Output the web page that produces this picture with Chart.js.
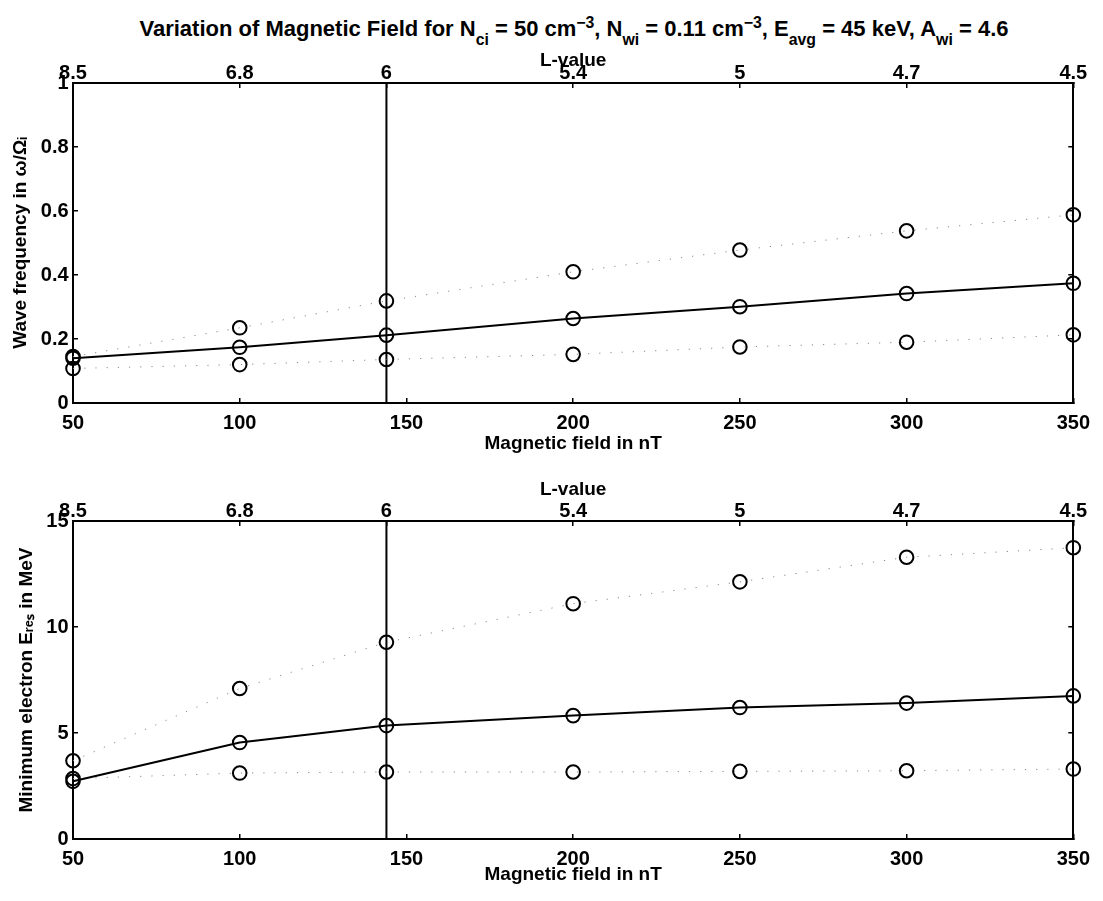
<!DOCTYPE html>
<html>
<head>
<meta charset="utf-8">
<script src="https://cdn.jsdelivr.net/npm/chart.js@4.4.0/dist/chart.umd.min.js"></script>
<style>
  body { margin: 0; background: #fff; width: 1103px; height: 901px; overflow: hidden; position: relative;
         font-family: 'Liberation Sans', Arial, sans-serif; }
  #title { position: absolute; left: 0; width: 1148px; top: 16px; text-align: center;
           font-size: 22px; font-weight: bold; color: #000; white-space: nowrap; }
  #title sub { font-size: 0.72em; vertical-align: -0.55em; line-height: 0; }
  #title sup { font-size: 0.72em; vertical-align: 0.5em; line-height: 0; }
  .panel { position: absolute; left: 0; width: 1103px; }
</style>
</head>
<body>
<div id="title">Variation of Magnetic Field for N<sub>ci</sub> = 50 cm<sup>&minus;3</sup>, N<sub>wi</sub> = 0.11 cm<sup>&minus;3</sup>, E<sub>avg</sub> = 45 keV, A<sub>wi</sub> = 4.6</div>
<div class="panel" style="top:0;height:460px"><canvas id="freqChart" width="1103" height="460"></canvas></div>
<div class="panel" style="top:460px;height:441px"><canvas id="eresChart" width="1103" height="441"></canvas></div>
<script>
// magnetic field (nT) at each run, and the matching L-shell
const fieldNT = [50, 100, 144, 200, 250, 300, 350];
const lValues = ['8.5', '6.8', '6', '5.4', '5', '4.7', '4.5'];
const markerField = 144; // L = 6

// wave frequency w/Omega_i
const freqHigh = [0.145, 0.235, 0.319, 0.41, 0.478, 0.538, 0.588];
const freqMid = [0.14, 0.174, 0.212, 0.264, 0.301, 0.342, 0.374];
const freqLow = [0.108, 0.12, 0.136, 0.152, 0.175, 0.19, 0.213];

// minimum resonant electron energy (MeV)
const eresHigh = [3.69, 7.1, 9.28, 11.1, 12.13, 13.29, 13.74];
const eresMid = [2.72, 4.55, 5.35, 5.82, 6.2, 6.41, 6.75];
const eresLow = [2.85, 3.11, 3.16, 3.16, 3.19, 3.22, 3.3];

Chart.defaults.font.family = "'Liberation Sans', Arial, sans-serif";
Chart.defaults.color = '#000';

const tickFont = { size: 20, weight: 'bold' };
const titleFont = { size: 19, weight: 'bold' };

function pts(ys) {
	return fieldNT.map((x, i) => ({ x: x, y: ys[i] }));
}

function series(ys, solid) {
	return {
		data: pts(ys),
		borderColor: solid ? '#000' : '#888',
		borderWidth: solid ? 2 : 1,
		borderDash: solid ? [] : [1.2, 10],
		pointStyle: 'circle',
		pointRadius: 6.8,
		pointBorderWidth: 2,
		pointBorderColor: '#000',
		pointBackgroundColor: 'rgba(0,0,0,0)',
		clip: false
	};
}

function makeChart(id, o) {
	const boxGrid = { drawOnChartArea: false, tickLength: -5, color: '#000', lineWidth: 1.5 };
	const boxBorder = { color: '#000', width: 2 };
	new Chart(document.getElementById(id), {
		type: 'line',
		data: {
			datasets: [
				series(o.high, false),
				series(o.mid, true),
				series(o.low, false),
				{
					// L = 6 marker line
					data: [{ x: markerField, y: o.yMin }, { x: markerField, y: o.yMax }],
					borderColor: '#000',
					borderWidth: 2,
					pointRadius: 0,
					clip: false
				}
			]
		},
		options: {
			responsive: false,
			animation: false,
			events: [],
			layout: { padding: { left: 0, right: 28, top: 0, bottom: 0 } },
			plugins: { legend: { display: false }, tooltip: { enabled: false } },
			scales: {
				x: {
					type: 'linear',
					position: 'bottom',
					min: 50,
					max: 350,
					ticks: { stepSize: 50, padding: 13, font: tickFont, maxRotation: 0, autoSkip: false },
					grid: boxGrid,
					border: boxBorder,
					title: { display: true, text: 'Magnetic field in nT', font: titleFont, padding: { top: 0, bottom: o.xTitlePad } },
					afterFit: (s) => { s.height = o.xHeight; }
				},
				x2: {
					type: 'linear',
					position: 'top',
					min: 50,
					max: 350,
					afterBuildTicks: (s) => { s.ticks = fieldNT.map((v) => ({ value: v })); },
					ticks: { callback: (v, i) => lValues[i], padding: 3, font: tickFont, maxRotation: 0, autoSkip: false },
					grid: boxGrid,
					border: boxBorder,
					title: { display: true, text: 'L-value', font: titleFont, padding: { top: o.lTitlePad, bottom: 0 } },
					afterFit: (s) => { s.height = o.topHeight; }
				},
				y: {
					type: 'linear',
					position: 'left',
					min: o.yMin,
					max: o.yMax,
					ticks: {
						stepSize: o.yStep,
						padding: 9.4,
						font: tickFont,
						callback: (v) => String(Number(v.toFixed(2)))
					},
					grid: boxGrid,
					border: boxBorder,
					title: { display: true, text: o.yTitle, font: titleFont, padding: { top: o.yTitlePad, bottom: 0 } },
					afterFit: (s) => { s.width = 73; }
				},
				yR: {
					type: 'linear',
					position: 'right',
					min: o.yMin,
					max: o.yMax,
					ticks: { stepSize: o.yStep, display: false },
					grid: boxGrid,
					border: boxBorder,
					afterFit: (s) => { s.width = 0; }
				}
			}
		}
	});
}

makeChart('freqChart', {
	high: freqHigh, mid: freqMid, low: freqLow,
	yMin: 0, yMax: 1, yStep: 0.2,
	yTitle: 'Wave frequency in \u03c9/\u03a9\u1d62',
	yTitlePad: 9.4,
	topHeight: 83, xHeight: 57,
	xTitlePad: 4.6, lTitlePad: 49.6
});

makeChart('eresChart', {
	high: eresHigh, mid: eresMid, low: eresLow,
	yMin: 0, yMax: 15, yStep: 5,
	yTitle: 'Minimum electron E\u1d63\u2091\u209b in MeV',
	yTitlePad: 15.3,
	topHeight: 61, xHeight: 62,
	xTitlePad: 14.6, lTitlePad: 18.6
});
</script>
</body>
</html>
